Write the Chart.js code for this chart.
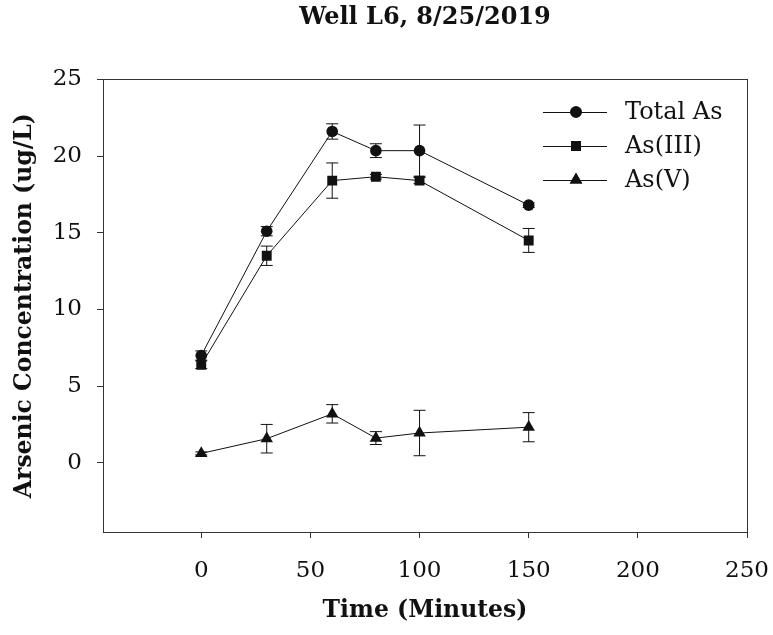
<!DOCTYPE html>
<html lang="en">
<head>
  <meta charset="UTF-8">
  <title>Well L6, 8/25/2019</title>
  <script src="https://cdn.jsdelivr.net/npm/chart.js@4"></script>
  <style>
    * { margin: 0; padding: 0; box-sizing: border-box; }
    body { background: #fff; }
    .wrap { width: 773px; height: 635px; }
  </style>
</head>
<body>
  <div class="wrap"><canvas id="chart" width="773" height="635"></canvas></div>

  <script>
    // sampling times (minutes)
    const times = [0, 30, 60, 80, 100, 150];

    const totalAs = [7.0, 15.1, 21.6, 20.35, 20.35, 16.8];
    const totalAsErr = [0.3, 0.3, 0.5, 0.45, 1.67, 0.15];

    const as3 = [6.4, 13.5, 18.4, 18.65, 18.4, 14.5];
    const as3Err = [0.25, 0.63, 1.15, 0.15, 0.2, 0.78];

    const as5 = [0.62, 1.58, 3.2, 1.62, 1.95, 2.33];
    const as5Err = [0.1, 0.93, 0.6, 0.42, 1.48, 0.95];

    const xTicks = [0, 50, 100, 150, 200, 250];
    const yTicks = [0, 5, 10, 15, 20, 25];

    const ink = '#111';
    Chart.defaults.font.family = "'DejaVu Serif', serif";
    Chart.defaults.color = ink;

    const series = (label, ys, errs, style, radius) => ({
      label,
      data: times.map((t, i) => ({ x: t, y: ys[i] })),
      errors: errs,
      borderColor: ink,
      backgroundColor: ink,
      borderWidth: 1,
      pointStyle: style,
      pointRadius: radius,
      pointBorderWidth: 0,
      tension: 0
    });

    const errorBars = {
      id: 'errorBars',
      beforeDatasetsDraw(chart) {
        const { ctx, scales: { x, y } } = chart;
        ctx.save();
        ctx.strokeStyle = ink;
        ctx.lineWidth = 1;
        chart.data.datasets.forEach(ds => {
          ds.data.forEach((p, i) => {
            const e = ds.errors[i];
            const px = x.getPixelForValue(p.x);
            const top = y.getPixelForValue(p.y + e);
            const bot = y.getPixelForValue(p.y - e);
            ctx.beginPath();
            ctx.moveTo(px, top); ctx.lineTo(px, bot);
            ctx.moveTo(px - 6, top); ctx.lineTo(px + 6, top);
            ctx.moveTo(px - 6, bot); ctx.lineTo(px + 6, bot);
            ctx.stroke();
          });
        });
        ctx.restore();
      }
    };

    const frameAndLegend = {
      id: 'frameAndLegend',
      afterDraw(chart) {
        const { ctx, chartArea: a } = chart;
        ctx.save();
        ctx.strokeStyle = '#333';
        ctx.lineWidth = 1;
        ctx.strokeRect(Math.round(a.left) + 0.5, Math.round(a.top) + 0.5,
          Math.round(a.right - a.left), Math.round(a.bottom - a.top));

        // legend: line with marker, label to the right
        ctx.font = "24px 'DejaVu Serif'";
        ctx.textBaseline = 'middle';
        ctx.fillStyle = ink;
        chart.data.datasets.forEach((ds, i) => {
          const yy = 112 + i * 34;
          ctx.strokeStyle = ink;
          ctx.beginPath();
          ctx.moveTo(543, yy + 0.5); ctx.lineTo(607, yy + 0.5);
          ctx.stroke();
          Chart.helpers.drawPoint(ctx, { pointStyle: ds.pointStyle, radius: ds.pointRadius, borderWidth: 0 }, 576, yy);
          ctx.fill();
          ctx.fillText(ds.label, 625, yy + 1);
        });
        ctx.restore();
      }
    };

    new Chart(document.getElementById('chart'), {
      type: 'line',
      data: {
        datasets: [
          series('Total As', totalAs, totalAsErr, 'circle', 5.8),
          series('As(III)', as3, as3Err, 'rect', 7),
          series('As(V)', as5, as5Err, 'triangle', 7.2)
        ]
      },
      options: {
        responsive: false,
        animation: false,
        layout: { padding: { left: 0, right: 26, top: 0, bottom: 0 } },
        plugins: {
          legend: { display: false },
          tooltip: { enabled: false },
          title: {
            display: true,
            fullSize: false,
            text: 'Well L6, 8/25/2019',
            font: { size: 24, weight: 'bold' },
            padding: { top: 3, bottom: 47.5 }
          }
        },
        scales: {
          x: {
            type: 'linear',
            min: -45,
            max: 250,
            afterBuildTicks: s => { s.ticks = xTicks.map(v => ({ value: v })); },
            afterFit: s => { s.height = 103; s.paddingLeft = 0; s.paddingRight = 0; },
            grid: { drawOnChartArea: false, tickLength: 6, tickColor: '#333' },
            border: { display: false },
            ticks: { font: { size: 23 }, padding: 19, maxRotation: 0 },
            title: {
              display: true,
              text: 'Time (Minutes)',
              font: { size: 23.5, weight: 'bold' },
              padding: { top: 4, bottom: 10 }
            }
          },
          y: {
            min: -4.5,
            max: 25,
            afterBuildTicks: s => { s.ticks = yTicks.map(v => ({ value: v })); },
            afterFit: s => { s.width = 103; s.paddingTop = 0; s.paddingBottom = 0; },
            grid: { drawOnChartArea: false, tickLength: 6, tickColor: '#333' },
            border: { display: false },
            ticks: { font: { size: 23 }, padding: 15 },
            title: {
              display: true,
              text: 'Arsenic Concentration (ug/L)',
              font: { size: 23.5, weight: 'bold' },
              padding: { top: 11, bottom: 0 }
            }
          }
        }
      },
      plugins: [errorBars, frameAndLegend]
    });
  </script>
</body>
</html>
